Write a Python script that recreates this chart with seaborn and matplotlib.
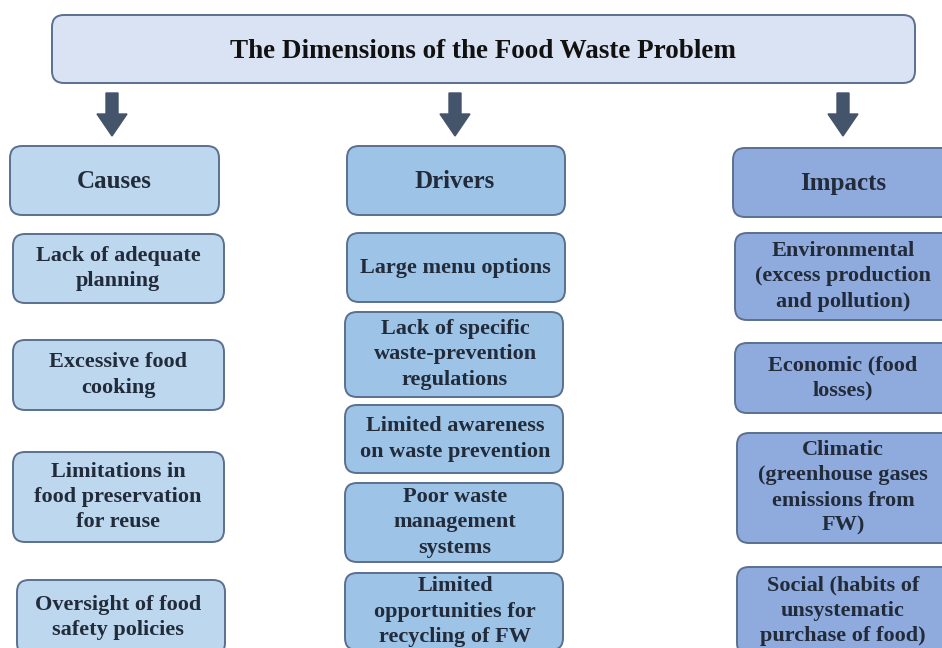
import matplotlib.pyplot as plt
import seaborn as sns
from matplotlib.patches import FancyBboxPatch, FancyArrow

sns.set_theme(style="white")
plt.rcParams['font.family'] = ['Liberation Serif', 'DejaVu Serif']

title = "The Dimensions of the Food Waste Problem"
headers = ["Causes", "Drivers", "Impacts"]
causes = ["Lack of adequate\nplanning",
          "Excessive food\ncooking",
          "Limitations in\nfood preservation\nfor reuse",
          "Oversight of food\nsafety policies"]
drivers = ["Large menu options",
           "Lack of specific\nwaste-prevention\nregulations",
           "Limited awareness\non waste prevention",
           "Poor waste\nmanagement\nsystems",
           "Limited\nopportunities for\nrecycling of FW"]
impacts = ["Environmental\n(excess production\nand pollution)",
           "Economic (food\nlosses)",
           "Climatic\n(greenhouse gases\nemissions from\nFW)",
           "Social (habits of\nunsystematic\npurchase of food)"]

# layout in pixel space: (x0, y0, x1, y1)
title_box = (52, 15, 915, 83)
arrow_x = [112, 455, 843]
header_boxes = [(10, 146, 219, 215), (347, 146, 565, 215), (733, 148, 955, 217)]
text_cx = [114, 455, 843]
cause_boxes = [(13, 234, 224, 303), (13, 340, 224, 410), (13, 452, 224, 542), (17, 580, 225, 655)]
driver_boxes = [(347, 233, 565, 302), (345, 312, 563, 397), (345, 405, 563, 473),
                (345, 483, 563, 562), (345, 573, 563, 650)]
impact_boxes = [(735, 233, 955, 320), (735, 343, 955, 413), (737, 433, 955, 543), (737, 567, 955, 655)]
item_cx = [118, 455, 843]

col_fill = ['#bdd7ee', '#9dc3e6', '#8faadc']
edge = '#5b6f8f'
txt = '#222b3a'

fig = plt.figure(figsize=(9.42, 6.48), dpi=100)
ax = fig.add_axes([0, 0, 1, 1])
ax.set_xlim(0, 942)
ax.set_ylim(648, 0)
ax.axis('off')


def box(b, fill, r=12):
    x0, y0, x1, y1 = b
    p = FancyBboxPatch((x0 + r, y0 + r), x1 - x0 - 2 * r, y1 - y0 - 2 * r,
                       boxstyle=f"round,pad={r}", fc=fill, ec=edge, lw=1.4)
    ax.add_patch(p)


box(title_box, '#dae3f3')
ax.text(483, 51, title, ha='center', va='center',
        fontsize=19.5, fontweight='bold', color='#111111')

for x in arrow_x:
    ax.add_patch(FancyArrow(x, 93, 0, 43, width=12, head_width=30, head_length=22,
                            length_includes_head=True, fc='#44546a', ec='#44546a'))

for i, (b, h) in enumerate(zip(header_boxes, headers)):
    box(b, col_fill[i])
    ax.text(text_cx[i], (b[1] + b[3]) / 2 + 1, h, ha='center', va='center',
            fontsize=18, fontweight='bold', color=txt)

for i, (boxes, labels) in enumerate([(cause_boxes, causes), (driver_boxes, drivers),
                                     (impact_boxes, impacts)]):
    for b, lab in zip(boxes, labels):
        box(b, col_fill[i])
        ax.text(item_cx[i], (b[1] + b[3]) / 2, lab, ha='center', va='center',
                fontsize=16, fontweight='bold', color=txt, linespacing=1.35)

fig.savefig('out.png', dpi=100)
